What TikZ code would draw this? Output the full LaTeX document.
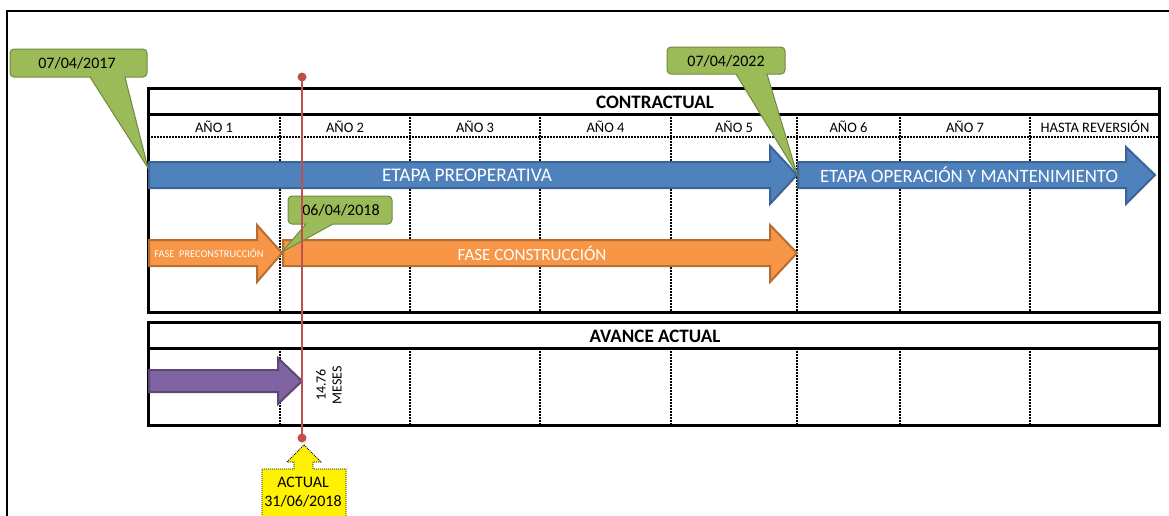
\documentclass[tikz,border=0pt]{standalone}
\usepackage{fontspec}
\setmainfont{Carlito}
\definecolor{arrblue}{HTML}{4F81BD}
\definecolor{arrblueb}{HTML}{3A6496}
\definecolor{arrorange}{HTML}{F79646}
\definecolor{arrorangeb}{HTML}{B66D31}
\definecolor{arrpurple}{HTML}{8064A2}
\definecolor{arrpurpleb}{HTML}{5C4776}
\definecolor{callgreen}{HTML}{9BBB59}
\definecolor{callgreenb}{HTML}{71893F}
\definecolor{markred}{HTML}{C0504D}
\tikzset{
  frameline/.style={line width=2pt, line cap=rect},
  tblbox/.style={line width=3pt, draw=black},
  coldiv/.style={line width=1.3pt, dash pattern=on 2pt off 1pt},
  bluearr/.style={fill=arrblue, draw=arrblueb, line width=2pt, line join=miter},
  orangearr/.style={fill=arrorange, draw=arrorangeb, line width=2pt, line join=miter},
  purplearr/.style={fill=arrpurple, draw=arrpurpleb, line width=2pt, line join=miter},
  greencall/.style={fill=callgreen, draw=callgreenb, line width=1pt},
  yellowcall/.style={fill=yellow, draw=black, line width=0.8pt, dash pattern=on 1pt off 1pt},
  collbl/.style={font=\fontsize{14.5}{16}\selectfont, inner sep=0},
  headlbl/.style={font=\bfseries\fontsize{19}{22}\selectfont, inner sep=0},
  whitelbl/.style={text=white, inner sep=0},
  datelbl/.style={font=\fontsize{16}{18}\selectfont, inner sep=0},
  marker/.style={draw=markred, line width=2.2pt},
  markdot/.style={fill=markred, circle, inner sep=0, minimum size=9pt},
}
\begin{document}
\begin{tikzpicture}[x=1pt,y=-1pt]
\useasboundingbox (0,0) rectangle (1169,515);
% outer frame (top and left only)
\draw[frameline] (7,515) -- (7,11) -- (1169,11);

% ---------- table CONTRACTUAL ----------
\foreach \cx in {280,410,540,671,797,900,1030}
  \draw[coldiv] (\cx,114) -- (\cx,312);
\draw[coldiv] (148,137) -- (1159,137);
\draw[tblbox] (148,88) rectangle (1159,312);
\draw[tblbox] (148,114) -- (1159,114);
\node[headlbl] (contractual) at (655,102) {CONTRACTUAL};
\node[collbl] (y1) at (214,126.5) {AÑO 1};
\node[collbl] (y2) at (345,126.5) {AÑO 2};
\node[collbl] (y3) at (475,126.5) {AÑO 3};
\node[collbl] (y4) at (605.5,126.5) {AÑO 4};
\node[collbl] (y5) at (734,126.5) {AÑO 5};
\node[collbl] (y6) at (848.5,126.5) {AÑO 6};
\node[collbl] (y7) at (965,126.5) {AÑO 7};
\node[collbl] (y8) at (1095,126.5) {HASTA REVERSIÓN};

% ---------- table AVANCE ACTUAL ----------
\foreach \cx in {280,410,540,671,797,900,1030}
  \draw[coldiv] (\cx,348) -- (\cx,425);
\draw[tblbox] (148,322) rectangle (1159,425);
\draw[tblbox] (148,348) -- (1159,348);
\node[headlbl] (avance) at (655,336) {AVANCE ACTUAL};

% ---------- arrows ----------
\draw[bluearr] (149,162) -- (770,162) -- (770,146) -- (797,175) -- (770,204) -- (770,188) -- (149,188) -- cycle;
\draw[bluearr] (798,162) -- (1126,162) -- (1126,147) -- (1155,175) -- (1126,204) -- (1126,188) -- (798,188) -- cycle;
\node[whitelbl, font=\fontsize{19.3}{21}\selectfont] (preop) at (467,175) {ETAPA PREOPERATIVA};
\node[whitelbl, font=\fontsize{18.8}{21}\selectfont] (oper) at (969,175) {ETAPA OPERACIÓN Y MANTENIMIENTO};

\draw[orangearr] (149,240) -- (257,240) -- (257,225) -- (282,253) -- (257,282) -- (257,266) -- (149,266) -- cycle;
\draw[orangearr] (283,240) -- (770,240) -- (770,225) -- (797,253) -- (770,282) -- (770,266) -- (283,266) -- cycle;
\node[whitelbl, font=\fontsize{10.4}{12}\selectfont] (precon) at (209,253) {FASE\ \ PRECONSTRUCCIÓN};
\node[whitelbl, font=\fontsize{17}{19}\selectfont] (constr) at (532,253) {FASE CONSTRUCCIÓN};

\draw[purplearr] (149,370) -- (278,370) -- (278,358) -- (302,381) -- (278,404) -- (278,392) -- (149,392) -- cycle;
\node[rotate=90, align=center, font=\fontsize{14}{16}\selectfont, inner sep=0] (meses) at (329,385) {14.76\\MESES};

% ---------- green callouts ----------
\draw[greencall] (90,77) [rounded corners=4pt] -- (10,77) -- (10,49) -- (147,49) -- (147,77) [sharp corners] -- (125,77) -- (148,168) -- cycle;
\node[datelbl] (d2017) at (77,63) {07/04/2017};

\draw[greencall] (736,74) [rounded corners=4pt] -- (667,74) -- (667,47) -- (785,47) -- (785,74) [sharp corners] -- (767,74) -- (797,174) -- cycle;
\node[datelbl] (d2022) at (726,61) {07/04/2022};

\draw[greencall] (306,224) [rounded corners=4pt] -- (288,224) -- (288,196) -- (392,196) -- (392,224) [sharp corners] -- (333,224) -- (282,252) -- cycle;
\node[datelbl] (d2018) at (341,210) {06/04/2018};

% ---------- current-date marker ----------
\node[markdot] (mtop) at (302,77) {};
\node[markdot] (mbot) at (302,438) {};
\draw[marker] (mtop.center) -- (mbot.center);

% ---------- yellow up-arrow callout ----------
\draw[yellowcall] (262,469) -- (294,469) -- (294,462) -- (287,462) -- (304,445) -- (321,462) -- (313,462) -- (313,469) -- (346,469) -- (346,530) -- (262,530) -- cycle;
\node[datelbl, align=center, font=\fontsize{16}{19}\selectfont] (actual) at (303,492) {ACTUAL\\31/06/2018};
\end{tikzpicture}
\end{document}
